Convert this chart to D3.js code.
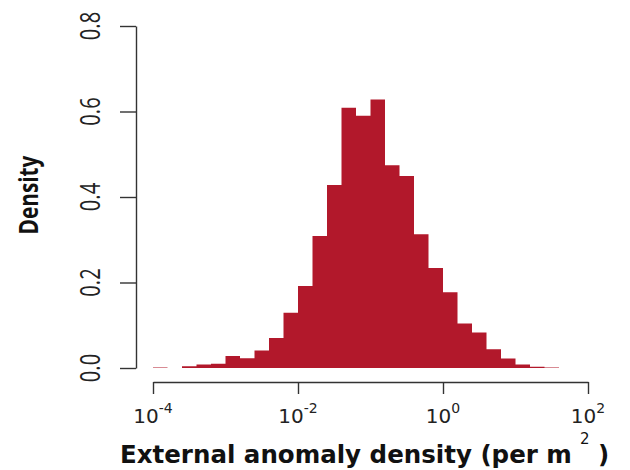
<!DOCTYPE html>
<html>
<head>
<meta charset="utf-8">
<script src="https://cdn.jsdelivr.net/npm/d3@7"></script>
<style>
  html, body { margin: 0; padding: 0; background: #fff; }
  svg { display: block; }
</style>
</head>
<body>
<svg id="chart" width="630" height="470"></svg>
<script>
// log10 lower edges of the histogram bins (bin width 0.2 decades)
const binEdges = [-4.0, -3.8, -3.6, -3.4, -3.2, -3.0, -2.8, -2.6, -2.4, -2.2, -2.0, -1.8, -1.6, -1.4,
                  -1.2, -1.0, -0.8, -0.6, -0.4, -0.2, 0.0, 0.2, 0.4, 0.6, 0.8, 1.0, 1.2, 1.4];
const binWidth = 0.2;
// density of each bin
const densities = [0.001, 0.000, 0.004, 0.008, 0.010, 0.028, 0.023, 0.041, 0.070, 0.129, 0.192, 0.309, 0.428, 0.609,
                   0.590, 0.628, 0.474, 0.449, 0.313, 0.234, 0.177, 0.104, 0.083, 0.044, 0.022, 0.008, 0.003, 0.001];
// axis ticks
const xTickExponents = [-4, -2, 0, 2];
const yTicks = [0.0, 0.2, 0.4, 0.6, 0.8];
const yTickLabels = ["0.0", "0.2", "0.4", "0.6", "0.8"];
const xTitle = "External anomaly density (per m";
const xTitleSup = "2";
const xTitleEnd = " )";
const yTitle = "Density";

const barColor = "#B2182B";
const axisColor = "#333";

const svg = d3.select("#chart");

const x = d3.scaleLog().domain([1e-4, 1e2]).range([153, 588]);
const y = d3.scaleLinear().domain([0, 0.8]).range([368, 26]);

const bins = binEdges.map((e, i) => ({ lo: Math.pow(10, e), hi: Math.pow(10, e + binWidth), d: densities[i] }));
// step points: each bin's left edge with its density, plus closing right edge
const stepPts = bins.map(b => ({ xv: b.lo, d: b.d }));
stepPts.push({ xv: bins[bins.length - 1].hi, d: 0 });

const area = d3.area()
  .x(p => x(p.xv))
  .y0(y(0))
  .y1(p => y(p.d))
  .curve(d3.curveStepAfter);

svg.append("path")
  .datum(stepPts)
  .attr("d", area)
  .attr("fill", barColor);

// Y axis
const yAxis = svg.append("g")
  .attr("transform", "translate(136,0)")
  .call(d3.axisLeft(y).tickValues(yTicks).tickSize(16).tickSizeOuter(0).tickFormat(""));
yAxis.select(".domain").attr("stroke", axisColor).attr("stroke-width", 1.4);
yAxis.selectAll(".tick line").attr("stroke", axisColor).attr("stroke-width", 1.4);

const narrowFont = "'Open Sans', 'Noto Sans', sans-serif";

svg.append("g")
  .selectAll("text")
  .data(yTicks)
  .join("text")
  .attr("transform", (d) => `translate(100,${y(d)}) rotate(-90) scale(0.72,1)`)
  .attr("text-anchor", "middle")
  .attr("font-family", narrowFont)
  .attr("font-size", 28)
  .attr("fill", "#222")
  .text((d, i) => yTickLabels[i]);

svg.append("text")
  .attr("transform", `translate(38,195) rotate(-90) scale(0.8,1)`)
  .attr("text-anchor", "middle")
  .attr("font-family", narrowFont)
  .attr("font-weight", "bold")
  .attr("font-size", 26)
  .attr("fill", "#111")
  .text(yTitle);

// X axis
const xAxis = svg.append("g")
  .attr("transform", "translate(0,382)")
  .call(d3.axisBottom(x).tickValues(xTickExponents.map(e => Math.pow(10, e))).tickSize(12).tickSizeOuter(0).tickFormat(""));
xAxis.select(".domain").attr("stroke", axisColor).attr("stroke-width", 1.4);
xAxis.selectAll(".tick line").attr("stroke", axisColor).attr("stroke-width", 1.4);

const xl = svg.append("g")
  .selectAll("text")
  .data(xTickExponents)
  .join("text")
  .attr("x", e => x(Math.pow(10, e)))
  .attr("y", 423)
  .attr("text-anchor", "middle")
  .attr("font-family", "'DejaVu Sans', Verdana, sans-serif")
  .attr("font-size", 20)
  .attr("fill", "#222");
xl.append("tspan").text("10");
xl.append("tspan").attr("dy", -10.5).attr("font-size", 14).text(e => String(e));

// X title
const titleFont = "'DejaVu Sans', Verdana, sans-serif";
const xt = svg.append("text")
  .attr("x", 120)
  .attr("y", 463)
  .attr("font-family", titleFont)
  .attr("font-weight", "bold")
  .attr("font-size", 24.5)
  .attr("fill", "#111");
xt.append("tspan").text(xTitle);
xt.append("tspan").attr("dx", 8).attr("dy", -19).attr("font-size", 15).attr("font-weight", "normal").text(xTitleSup);
xt.append("tspan").attr("dy", 19).text(xTitleEnd);
</script>
</body>
</html>
